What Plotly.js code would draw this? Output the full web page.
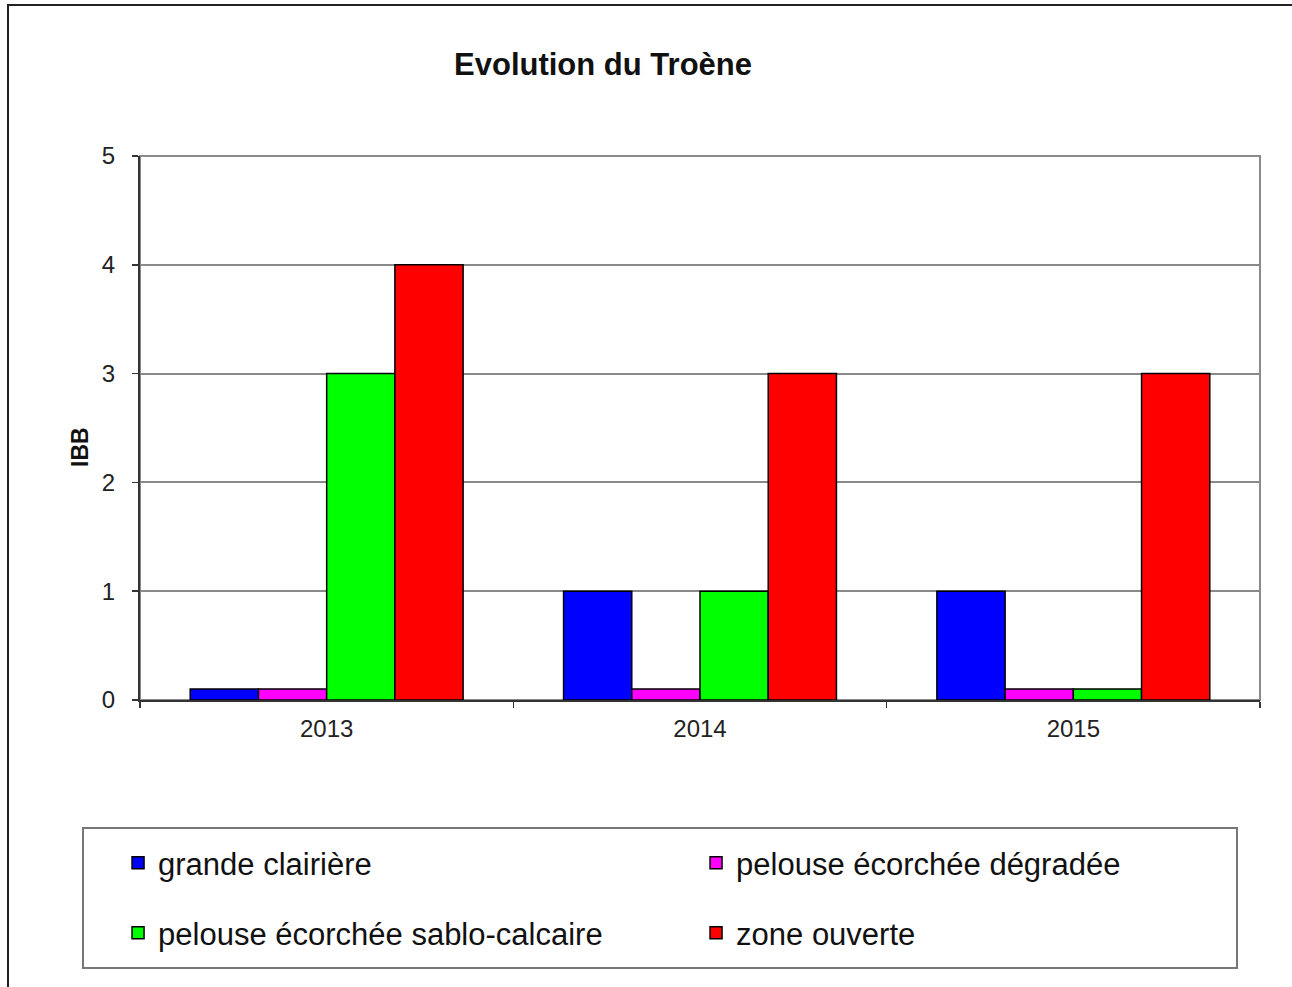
<!DOCTYPE html>
<html>
<head>
<meta charset="utf-8">
<script src="https://cdn.plot.ly/plotly-3.0.1.min.js"></script>
<style>html,body{margin:0;padding:0;background:#fff;}#chart{width:1292px;height:987px;}</style>
</head>
<body>
<div id="chart"></div>
<script>
const years = ['2013', '2014', '2015'];
const seriesNames = ['grande clairière', 'pelouse écorchée dégradée', 'pelouse écorchée sablo-calcaire', 'zone ouverte'];
const grandeClairiere = [0.1, 1, 1];
const pelouseDegradee = [0.1, 0.1, 0.1];
const pelouseSabloCalcaire = [3, 1, 0.1];
const zoneOuverte = [4, 3, 3];
const seriesColors = ['#0000FF', '#FF00FF', '#00FF00', '#FF0000'];
const yTicks = [0, 1, 2, 3, 4, 5];

const values = [grandeClairiere, pelouseDegradee, pelouseSabloCalcaire, zoneOuverte];
const legendIds = ['legend', 'legend', 'legend2', 'legend2'];
const traces = values.map((v, i) => ({
  type: 'bar',
  name: seriesNames[i],
  x: years,
  y: v,
  marker: {color: seriesColors[i], line: {color: '#000', width: 1.5}},
  legend: legendIds[i],
  hoverinfo: 'x+y+name'
}));

const font = 'Liberation Sans, Arial, sans-serif';
const legendCommon = {
  orientation: 'h',
  xanchor: 'left',
  yanchor: 'middle',
  x: -0.0196,
  entrywidth: 533,
  entrywidthmode: 'pixels',
  font: {family: font, size: 31, color: '#111'},
  bgcolor: 'rgba(0,0,0,0)',
  borderwidth: 0,
  traceorder: 'normal'
};

const layout = {
  width: 1292,
  height: 987,
  margin: {l: 140, r: 32, t: 156, b: 287},
  paper_bgcolor: '#fff',
  plot_bgcolor: '#fff',
  font: {family: font, color: '#222'},
  title: {
    text: 'Evolution du Troène',
    font: {family: font, size: 31, color: '#111', weight: 'bold'},
    xref: 'paper', x: 0.4134, xanchor: 'center',
    yref: 'container', y: 1 - 64 / 987, yanchor: 'middle'
  },
  barmode: 'group',
  bargap: 0.269,
  bargroupgap: 0,
  xaxis: {
    type: 'category',
    showline: true, linecolor: '#333', linewidth: 2,
    ticks: 'outside', tickson: 'boundaries', ticklen: 6, tickcolor: '#333', tickwidth: 1.5,
    tickfont: {family: font, size: 24, color: '#222'},
    ticklabelstandoff: 6,
    showgrid: false, zeroline: false, fixedrange: true
  },
  yaxis: {
    range: [0, 5],
    tickvals: yTicks,
    ticktext: yTicks.map(String),
    showline: true, linecolor: '#333', linewidth: 2,
    ticks: 'outside', ticklen: 6, tickcolor: '#333', tickwidth: 1.5,
    tickfont: {family: font, size: 24, color: '#222'},
    ticklabelstandoff: 12,
    showgrid: true, gridcolor: '#8a8a8a', gridwidth: 2,
    zeroline: false, fixedrange: true
  },
  legend: Object.assign({}, legendCommon, {y: (700 - 863) / 544}),
  legend2: Object.assign({}, legendCommon, {y: (700 - 933) / 544}),
  annotations: [{
    text: '<b>IBB</b>',
    xref: 'paper', yref: 'paper',
    x: (80 - 140) / 1120, y: (700 - 447) / 544,
    xanchor: 'center', yanchor: 'middle',
    textangle: -90, showarrow: false,
    font: {family: font, size: 23, color: '#111'}
  }],
  shapes: [
    {type: 'rect', xref: 'paper', yref: 'paper', x0: 0, x1: 1, y0: 0, y1: 1,
     line: {color: '#8a8a8a', width: 2}, layer: 'below'},
    {type: 'rect', xref: 'paper', yref: 'paper',
     x0: (83 - 140) / 1120, x1: (1237 - 140) / 1120,
     y0: (700 - 968) / 544, y1: (700 - 828) / 544,
     line: {color: '#777', width: 2}, layer: 'below'},
    {type: 'rect', xref: 'paper', yref: 'paper',
     x0: (8 - 140) / 1120, x1: 1.2,
     y0: -1, y1: (700 - 5) / 544,
     line: {color: '#222', width: 2}, layer: 'below'}
  ],
  showlegend: true
};

Plotly.newPlot('chart', traces, layout, {displayModeBar: false, staticPlot: true});
</script>
</body>
</html>
